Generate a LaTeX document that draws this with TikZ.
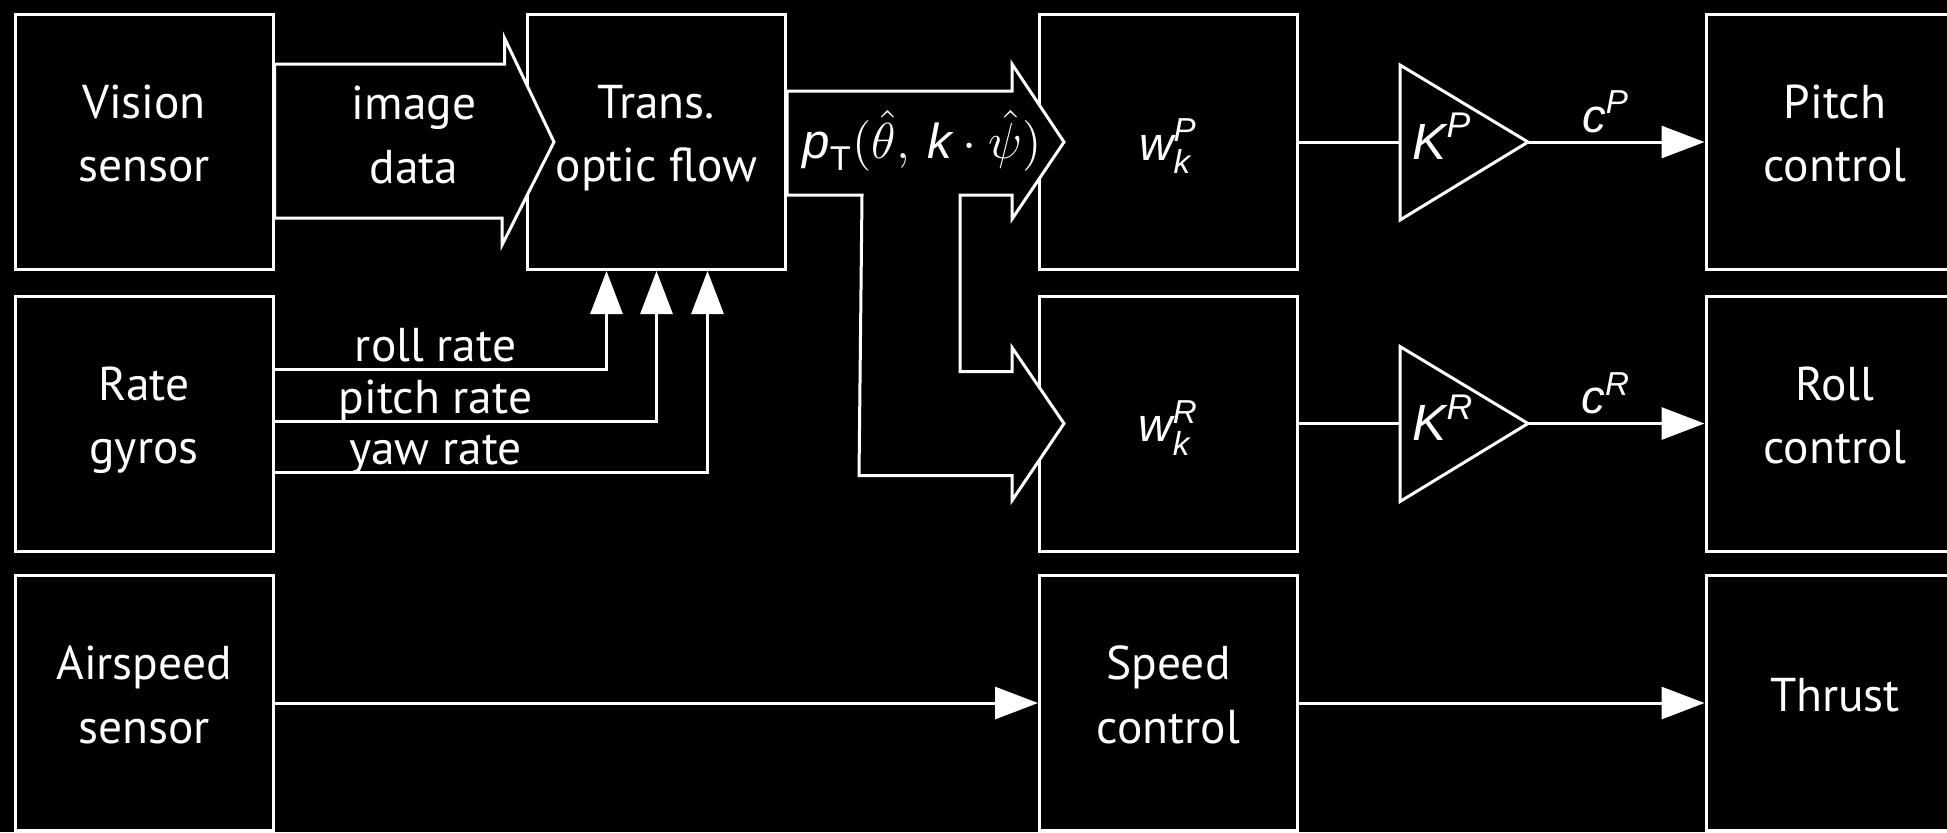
\documentclass[tikz,border=0pt]{standalone}
\usepackage{amsmath}
\usepackage{fontspec}
\setmainfont{PT Sans}
\newfontfamily\hv{Liberation Sans}
\usetikzlibrary{arrows.meta,positioning,calc}
\newcommand{\mv}[1]{\text{\hv\itshape #1}}
\tikzset{
  blk/.style={draw=white,line width=0.3mm,fill=black,text=white,align=center,
              minimum width=25.8mm,minimum height=25.5mm,inner sep=0pt,
              text depth=1.7mm,font=\fontsize{13.5}{18}\selectfont},
  wblk/.style={blk,text height=3.6mm,text depth=0mm},
  lbl/.style={text=white,inner sep=0pt,font=\fontsize{13.5}{18}\selectfont},
  wire/.style={white,line width=0.3mm},
  sig/.style={wire,-{Triangle[length=4.3mm,width=3.2mm]}},
  fat/.style={draw=white,fill=black,line width=0.3mm,line join=miter},
}

\begin{document}
\begin{tikzpicture}[x=0.1mm,y=-0.1mm]
  \fill[black] (0,0) rectangle (1947,832);
  \useasboundingbox (0,0) rectangle (1947,832);
  \clip (0,0) rectangle (1947,832);
  % blocks
  \node[blk] (vis)  at (144,142)    {Vision\\sensor};
  \node[blk] (gyro) at (144,423.5)  {Rate\\gyros};
  \node[blk] (air)  at (144,703)    {Airspeed\\sensor};
  \node[blk] (tof)  at (656.5,142)  {Trans.\\optic flow};
  \node[wblk] (wp)  at (1168.5,142) {$\mv{w}^{\mv{P}}_{\mv{k}}$};
  \node[wblk] (wr)  at (1168.5,423.5) {$\mv{w}^{\mv{R}}_{\mv{k}}$};
  \node[blk] (spd)  at (1168.5,703) {Speed\\control};
  \node[blk] (pc)   at (1835,142)   {Pitch\\control};
  \node[blk] (rc)   at (1835,423.5) {Roll\\control};
  \node[blk] (thr)  at (1835,703)   {Thrust};
  % fat arrows
  \draw[fat] ($(vis.east)+(0,-78)$) -- ++(230,0) -- ++(0,-26)
    -- ($(tof.west)+(28,0)$) -- ++(-52,103) -- ++(0,-27)
    -- ($(vis.east)+(0,76)$) -- cycle;
  \node[lbl,align=center] (imgtxt) at (414,135) {image\\data};
  \draw[fat] ($(tof.east)+(0,-51)$) -- ($(wp.west)+(-26,-51)$) -- ++(0,-27)
    -- ($(wp.west)+(26,0)$) -- ++(-52,77) -- ++(0,-24) -- ++(-52,0)
    -- ($(wr.west)+(-78,-52)$) -- ++(52,0) -- ++(0,-24)
    -- ($(wr.west)+(26,0)$) -- ++(-52,77) -- ++(0,-25) -- ++(-153,0)
    -- ($(tof.east)+(75,53)$) -- ($(tof.east)+(0,53)$) -- cycle;
  \node[lbl,font=\fontsize{14}{18}\selectfont] (ptxt) at (922,141)
    {$\mv{p}_{\text{\hv T}}(\hat{\theta},\,\mv{k}\cdot\hat{\psi})$};
  % rate gyro signals
  \foreach \dy/\dx/\rt in {-54/-50/roll rate,-2/0/pitch rate,49/51/yaw rate}{
    \draw[sig] ($(gyro.east)+(0,\dy)$) -| ($(tof.south)+(\dx,0)$);
    \node[lbl,anchor=base] at ($(gyro.east)+(161,\dy-8)$) {\rt};
  }
  % gains
  \foreach \w/\c/\s in {wp/pc/P,wr/rc/R}{
    \coordinate (\s in) at ($(\w.east)+(101,0)$);
    \coordinate (\s out) at ($(\w.east)+(229,0)$);
    \draw[wire] (\w.east) -- (\s in);
    \draw[wire,line join=miter] ($(\s in)+(0,-77)$) -- ($(\s in)+(0,78)$)
      -- (\s out) -- cycle;
    \node[lbl,anchor=base west,font=\fontsize{14.5}{18}\selectfont]
      at ($(\s in)+(12,17)$) {$\mv{K}^{\mv{\s}}$};
    \draw[sig] (\s out) -- (\c.west);
    \node[lbl,anchor=base] at ($(\s out)+(78,-10)$) {$\mv{c}^{\mv{\s}}$};
  }
  % airspeed path
  \draw[sig] (air) -- (spd);
  \draw[sig] (spd) -- (thr);
\end{tikzpicture}
\end{document}
